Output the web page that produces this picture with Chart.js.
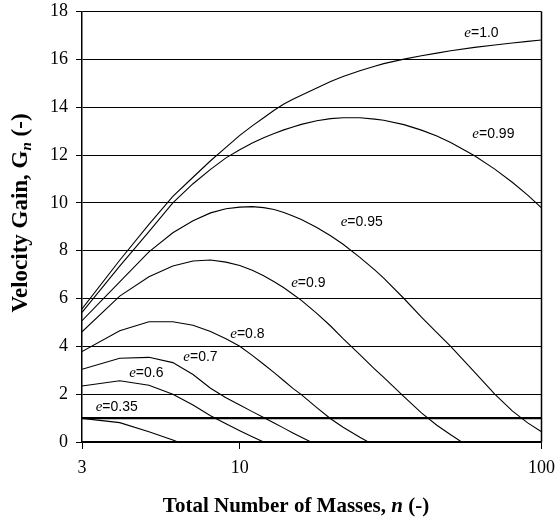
<!DOCTYPE html>
<html>
<head>
<meta charset="utf-8">
<script src="https://cdn.jsdelivr.net/npm/chart.js@4.4.1/dist/chart.umd.min.js"></script>
<style>
  html, body { margin: 0; padding: 0; background: #fff; }
  #wrap { width: 556px; height: 521px; }
</style>
</head>
<body>
<div id="wrap"><canvas id="gainChart" width="556" height="521"></canvas></div>
<script>
// total number of masses (x) - shared by every curve
const nValues = [3, 4, 5, 6, 7, 8, 9, 10, 11, 12, 13, 14, 15, 16, 18, 20, 22, 25, 28, 30, 35, 40, 45, 50, 60, 70, 80, 90, 100];

// velocity gain, one array per restitution coefficient
const gainE100 = [5.56, 7.6, 9.1, 10.27, 11.07, 11.76, 12.32, 12.82, 13.22, 13.56, 13.87, 14.13, 14.33, 14.5, 14.8, 15.07, 15.28, 15.52, 15.71, 15.82, 16.01, 16.15, 16.26, 16.36, 16.5, 16.6, 16.68, 16.75, 16.81];
const gainE099 = [5.42, 7.35, 8.8, 10.0, 10.8, 11.4, 11.88, 12.22, 12.5, 12.72, 12.9, 13.05, 13.17, 13.28, 13.43, 13.52, 13.56, 13.56, 13.5, 13.45, 13.27, 13.04, 12.79, 12.52, 11.97, 11.41, 10.86, 10.32, 9.79];
const gainE095 = [5.07, 6.7, 7.95, 8.75, 9.25, 9.58, 9.75, 9.82, 9.84, 9.8, 9.72, 9.6, 9.45, 9.3, 8.97, 8.62, 8.27, 7.72, 7.2, 6.85, 6.0, 5.22, 4.57, 4.0, 2.92, 2.0, 1.3, 0.8, 0.43];
const gainE090 = [4.61, 6.1, 6.91, 7.36, 7.57, 7.61, 7.52, 7.38, 7.18, 6.95, 6.7, 6.45, 6.18, 5.92, 5.38, 4.85, 4.32, 3.65, 3.05, 2.7, 1.9, 1.22, 0.7, 0.3, -0.35, null, null, null, null];
const gainE080 = [3.78, 4.65, 5.03, 5.03, 4.88, 4.62, 4.32, 4.0, 3.62, 3.25, 2.9, 2.56, 2.24, 1.98, 1.44, 0.97, 0.62, 0.2, -0.15, null, null, null, null, null, null, null, null, null, null];
const gainE070 = [3.04, 3.5, 3.54, 3.32, 2.82, 2.25, 1.85, 1.55, 1.27, 1.02, 0.79, 0.58, 0.38, 0.2, -0.12, null, null, null, null, null, null, null, null, null, null, null, null, null, null];
const gainE060 = [2.34, 2.56, 2.37, 2.0, 1.55, 1.1, 0.76, 0.47, 0.22, 0.0, -0.2, null, null, null, null, null, null, null, null, null, null, null, null, null, null, null, null, null, null];
const gainE035 = [0.99, 0.81, 0.43, 0.08, -0.24, null, null, null, null, null, null, null, null, null, null, null, null, null, null, null, null, null, null, null, null, null, null, null, null];

// unity gain reference line
const unityN = [3, 100];
const unityGain = [1, 1];

// curve labels: text and where they sit (n, gain)
const labelText = ['1.0', '0.99', '0.95', '0.9', '0.8', '0.7', '0.6', '0.35'];
const labelN = [55.5, 59.0, 21.6, 14.8, 9.3, 6.5, 4.3, 3.33];
const labelGain = [16.95, 12.7, 9.03, 6.47, 4.34, 3.4, 2.7, 1.31];

// axis ticks
const xTicks = [3, 10, 100];
const yTicks = [0, 2, 4, 6, 8, 10, 12, 14, 16, 18];

const curves = [gainE100, gainE099, gainE095, gainE090, gainE080, gainE070, gainE060, gainE035];

function toPoints(xs, ys) {
    const pts = [];
    xs.forEach((x, i) => { if (ys[i] !== null) pts.push({ x: x, y: ys[i] }); });
    return pts;
}

const datasets = curves.map((c) => ({
    data: toPoints(nValues, c),
    borderColor: '#000',
    borderWidth: 1.1,
    pointRadius: 0,
    showLine: true,
    tension: 0,
    clip: 0
}));
datasets.push({
    data: toPoints(unityN, unityGain),
    borderColor: '#000',
    borderWidth: 2.2,
    pointRadius: 0,
    showLine: true,
    clip: 0
});

const serif = '"Liberation Serif", "Times New Roman", serif';
const sans = '"Liberation Sans", Arial, sans-serif';

const decorPlugin = {
    id: 'decor',
    afterDatasetsDraw(chart) {
        const ctx = chart.ctx;
        const xs = chart.scales.x, ys = chart.scales.y;
        const a = chart.chartArea;
        ctx.save();
        // right frame edge
        ctx.strokeStyle = '#000';
        ctx.lineWidth = 1.5;
        ctx.beginPath();
        ctx.moveTo(a.right, a.top);
        ctx.lineTo(a.right, a.bottom);
        ctx.stroke();

        // curve labels
        ctx.fillStyle = '#000';
        ctx.textBaseline = 'alphabetic';
        ctx.textAlign = 'left';
        labelText.forEach((t, i) => {
            const px = xs.getPixelForValue(labelN[i]);
            const py = ys.getPixelForValue(labelGain[i]);
            ctx.font = 'italic 15px ' + serif;
            ctx.fillText('e', px, py);
            const w = ctx.measureText('e').width;
            ctx.font = '14px ' + sans;
            ctx.fillText('=' + t, px + w, py);
        });
        ctx.restore();
    },
    afterDraw(chart) {
        const ctx = chart.ctx;
        ctx.save();
        ctx.fillStyle = '#000';
        ctx.textBaseline = 'alphabetic';
        ctx.textAlign = 'left';

        // x axis title
        const xParts = [
            ['bold 21px ' + serif, 'Total Number of Masses, ', 0],
            ['bold italic 21px ' + serif, 'n', 0],
            ['bold 21px ' + serif, ' (-)', 0]
        ];
        drawParts(ctx, xParts, 296, 512);

        // y axis title, rotated
        ctx.translate(27, 213);
        ctx.rotate(-Math.PI / 2);
        const yParts = [
            ['bold 23px ' + serif, 'Velocity Gain, G', 0],
            ['bold italic 15px ' + serif, 'n', 4],
            ['bold 23px ' + serif, ' (-)', 0]
        ];
        drawParts(ctx, yParts, 0, 0);
        ctx.restore();
    }
};

function drawParts(ctx, parts, cx, by) {
    let total = 0;
    parts.forEach((p) => { ctx.font = p[0]; total += ctx.measureText(p[1]).width; });
    let x = cx - total / 2;
    parts.forEach((p) => {
        ctx.font = p[0];
        ctx.fillText(p[1], x, by + p[2]);
        x += ctx.measureText(p[1]).width;
    });
}

new Chart(document.getElementById('gainChart').getContext('2d'), {
    type: 'scatter',
    data: { datasets },
    options: {
        responsive: false,
        animation: false,
        devicePixelRatio: 1,
        layout: { padding: { left: 0, top: 11.5, right: 14.5, bottom: 0 } },
        plugins: { legend: { display: false }, tooltip: { enabled: false } },
        scales: {
            x: {
                type: 'logarithmic',
                min: 3,
                max: 100,
                afterBuildTicks: (s) => { s.ticks = xTicks.map((v) => ({ value: v })); },
                afterFit: (s) => { s.height = 79; s.paddingLeft = 0; s.paddingRight = 0; },
                ticks: {
                    color: '#000',
                    font: { family: serif, size: 18 },
                    padding: 8,
                    maxRotation: 0,
                    autoSkip: false,
                    callback: (v) => String(v)
                },
                grid: { drawOnChartArea: false, color: '#000', tickLength: 7 },
                border: { color: '#000', width: 1.5 }
            },
            y: {
                min: 0,
                max: 18,
                afterBuildTicks: (s) => { s.ticks = yTicks.map((v) => ({ value: v })); },
                afterFit: (s) => { s.width = 82; s.paddingTop = 0; s.paddingBottom = 0; },
                ticks: {
                    color: '#000',
                    font: { family: serif, size: 18 },
                    padding: 8
                },
                grid: { color: '#000', lineWidth: 1, tickLength: 6 },
                border: { color: '#000', width: 1.5 }
            }
        }
    },
    plugins: [decorPlugin]
});
</script>
</body>
</html>
